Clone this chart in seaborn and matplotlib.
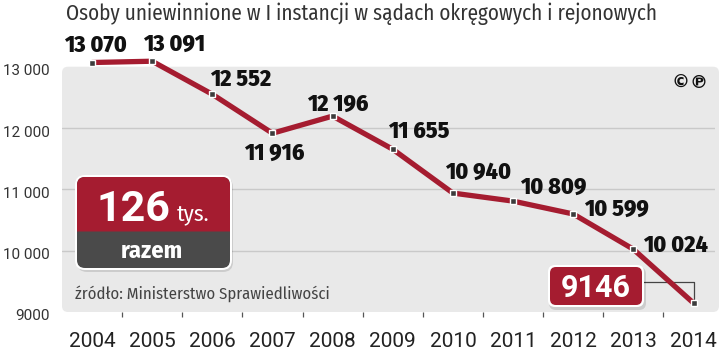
import matplotlib
matplotlib.use('Agg')
import matplotlib.pyplot as plt
import matplotlib.transforms as mtransforms
from matplotlib.patches import FancyBboxPatch
import seaborn as sns

# data
years = [2004, 2005, 2006, 2007, 2008, 2009, 2010, 2011, 2012, 2013, 2014]
acquitted = [13070, 13091, 12552, 11916, 12196, 11655, 10940, 10809, 10599, 10024, 9146]
value_labels = ['13 070', '13 091', '12 552', '11 916', '12 196', '11 655',
                '10 940', '10 809', '10 599', '10 024', '9146']
ytick_values = [9000, 10000, 11000, 12000, 13000]
ytick_labels = ['9000', '10 000', '11 000', '12 000', '13 000']
grid_values = [10000, 11000, 12000]
title = 'Osoby uniewinnione w I instancji w sądach okręgowych i rejonowych'
source = 'źródło: Ministerstwo Sprawiedliwości'
total_value, total_unit, total_caption = '126', 'tys.', 'razem'

# label offsets in pixels (dx, dy up) from each point, baseline aligned
label_offsets = [(3, 11), (22, 10), (28, 8), (2, -27), (5, 5), (26, 11),
                 (25, 14), (40, 7), (43, -2), (42, -3)]

RED = '#a51c30'
DARK = '#4a4a4a'
PANEL = '#e9e9e9'
COND = ['Fira Sans Condensed', 'DejaVu Sans']
SANS = ['Roboto', 'Liberation Sans', 'DejaVu Sans']

sns.set_theme(style='white')
plt.rcParams['font.family'] = SANS

W, H = 720, 352
fig = plt.figure(figsize=(7.2, 3.52), dpi=100)
fig.patch.set_facecolor('white')


def fx(px):
    return px / W


def fy(py):
    return 1 - py / H


ax = fig.add_axes([fx(62), fy(312), fx(715) - fx(62), fy(30) - fy(312)])
ax.patch.set_visible(False)
for s in ax.spines.values():
    s.set_visible(False)


def box(x0, y0, x1, y1, r, color, z, alpha=1.0):
    p = FancyBboxPatch((fx(x0), fy(y1)), (x1 - x0) / W, (y1 - y0) / H,
                       boxstyle=f'round,pad=0,rounding_size={r / W}',
                       mutation_aspect=W / H, transform=fig.transFigure,
                       fc=color, ec='none', zorder=z, alpha=alpha, clip_on=False)
    ax.add_patch(p)


def ftext(px, py, s, **kw):
    fig.text(fx(px), fy(py), s, **kw)


# grey panel and grid
box(62, 66.7, 719, 312, 6, PANEL, 0.5)
for v in grid_values:
    ax.axhline(v, color='#c9c9c9', lw=1, zorder=1)

# main line
sns.lineplot(x=years, y=acquitted, ax=ax, color=RED, lw=3.8, marker='s',
             markersize=4.5, markerfacecolor='#3c3c3c', markeredgecolor='white',
             markeredgewidth=1, zorder=3)

ax.set_xlim(2004 - 30 / 60.15, 2004 + (715 - 92) / 60.15)
ax.set_ylim(9000, 9000 + 282 / 61.3 * 1000)

ax.set_xticks(years, [str(y) for y in years])
ax.set_xticks([y + 0.5 for y in years[:-1]], minor=True)
ax.tick_params(axis='x', which='major', length=0, pad=14.4, labelsize=15,
               labelcolor='#222222')
ax.tick_params(axis='x', which='minor', bottom=True, length=3.6, width=0.9,
               color='#555555', direction='out')
ax.set_yticks(ytick_values, ytick_labels)
ax.tick_params(axis='y', length=0, pad=8.6, labelsize=11, labelcolor='#333333')
shift = mtransforms.ScaledTranslation(0, -3 / 100, fig.dpi_scale_trans)
for lab in ax.get_yticklabels():
    lab.set_transform(lab.get_transform() + shift)

# value labels
for x, v, lab, (dx, dy) in zip(years, acquitted, value_labels, label_offsets):
    ax.annotate(lab, (x, v), xytext=(dx, dy), textcoords='offset pixels',
                ha='center', va='baseline', fontsize=17, fontweight='heavy',
                family=COND, color='#111111', zorder=4)

# last value box with connector
ax.annotate('', xy=(years[-1], acquitted[-1]), xytext=(fx(642), fy(282)),
            textcoords='figure fraction',
            arrowprops=dict(arrowstyle='-', connectionstyle='angle,angleA=0,angleB=90,rad=0',
                            shrinkA=0, shrinkB=3, color='#444444', lw=0.9), zorder=2)
box(549, 267, 646, 310, 7, '#000000', 5, alpha=0.12)
box(548, 265, 644, 307, 7, 'white', 5)
box(550, 267, 642, 305, 6, RED, 5)
ftext(596, 297, value_labels[-1], ha='center', va='baseline', fontsize=22,
      fontweight='bold', family=SANS, color='white')

# total box
box(77, 177, 233, 272, 10, '#000000', 5, alpha=0.12)
box(75, 175, 232, 270, 10, 'white', 5)
box(77, 177, 230, 268, 8, DARK, 5)
box(77, 177, 230, 250, 8, RED, 5)
box(77, 231.5, 230, 250, 0, DARK, 5)
ftext(97, 221, total_value, ha='left', va='baseline', fontsize=31,
      fontweight='bold', family=SANS, color='white')
ftext(177, 221, total_unit, ha='left', va='baseline', fontsize=16.5,
      family=COND, color='white')
ftext(152, 258, total_caption, ha='center', va='baseline', fontsize=17.5,
      fontweight='bold', family=COND, color='white')

# texts
ftext(66, 20, title, ha='left', va='baseline', fontsize=15.2, fontweight='normal',
      family=COND, color='#333333')
ftext(75, 299, source, ha='left', va='baseline', fontsize=12, fontweight='normal',
      family=COND, color='#444444')
ftext(681, 83, '©', ha='center', va='center', fontsize=13, fontweight='bold',
      family=['DejaVu Sans'], color='#111111')
ftext(698, 83, '℗', ha='center', va='center', fontsize=13, fontweight='bold',
      family=['DejaVu Sans'], color='#111111')

fig.savefig('out.png', dpi=100)
